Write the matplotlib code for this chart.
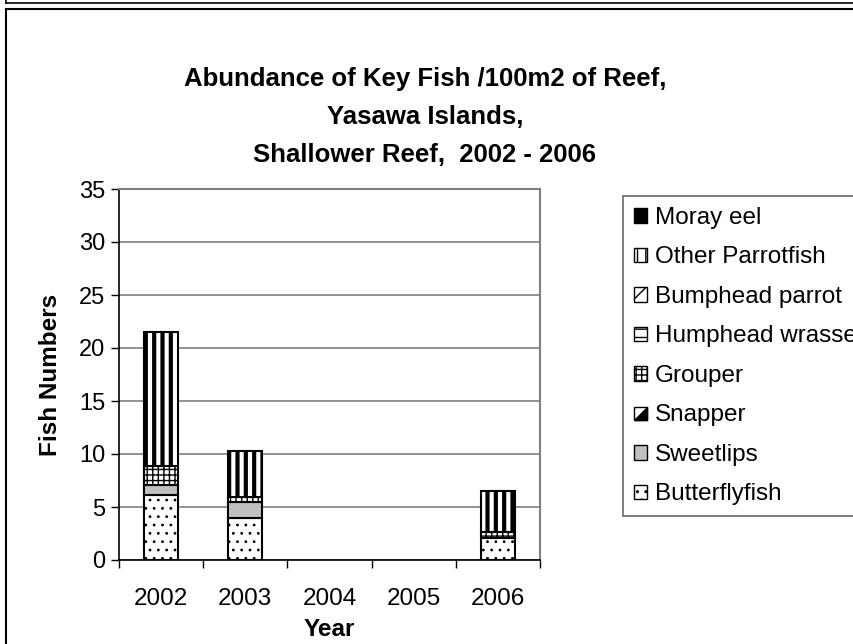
import matplotlib
matplotlib.use("Agg")
import matplotlib.pyplot as plt
from matplotlib.patches import Rectangle, Patch, Polygon
from matplotlib.lines import Line2D
from matplotlib.legend_handler import HandlerBase

years = ["2002", "2003", "2004", "2005", "2006"]
butterflyfish = [6.1, 4.0, 0, 0, 2.1]
sweetlips = [1.0, 1.45, 0, 0, 0]
snapper = [0, 0, 0, 0, 0]
grouper = [1.8, 0.5, 0, 0, 0.55]
humphead_wrasse = [0, 0, 0, 0, 0]
bumphead_parrot = [0, 0, 0, 0, 0]
other_parrotfish = [12.6, 4.3, 0, 0, 3.85]
moray_eel = [0, 0, 0, 0, 0]

series = [
    ("Butterflyfish", butterflyfish, "white", ".."),
    ("Sweetlips", sweetlips, "#c0c0c0", None),
    ("Snapper", snapper, "white", "////////"),
    ("Grouper", grouper, "white", "+++"),
    ("Humphead wrasse", humphead_wrasse, "white", "--"),
    ("Bumphead parrot", bumphead_parrot, "white", "//"),
    ("Other Parrotfish", other_parrotfish, "white", "||"),
    ("Moray eel", moray_eel, "black", None),
]

plt.rcParams['font.family'] = ['Liberation Sans', 'DejaVu Sans']

fig = plt.figure(figsize=(8.54, 6.44), dpi=100)
W, H = 854, 644

# outer frames
fig.add_artist(Line2D([6 / W, 1], [1 - 3 / H, 1 - 3 / H], color="black", lw=1.2, transform=fig.transFigure))
fig.add_artist(Line2D([6 / W, 6 / W], [1 - 3 / H, 1], color="black", lw=1.2, transform=fig.transFigure))
fig.add_artist(Rectangle((6 / W, -0.01), 1.0, 1 - 9 / H + 0.01, transform=fig.transFigure,
                         fill=False, edgecolor="black", lw=1.5))

ax = fig.add_axes([119 / W, 1 - 560 / H, (540 - 119) / W, (560 - 189) / H])

x = list(range(len(years)))
bottom = [0.0] * len(years)
handles = []
for name, vals, fc, hatch in series:
    bars = ax.bar(x, vals, width=0.4, bottom=bottom, color=fc, edgecolor="black",
                  linewidth=1.5, hatch=hatch, zorder=3)
    for b, v in zip(bars, vals):
        if v == 0:
            b.set_visible(False)
        if name == "Other Parrotfish" and hasattr(b, "set_hatch_linewidth"):
            b.set_hatch_linewidth(3.0)
        if name == "Butterflyfish" and hasattr(b, "set_hatch_linewidth"):
            b.set_hatch_linewidth(0.8)
    bottom = [bo + v for bo, v in zip(bottom, vals)]
    hp = Patch(facecolor=fc, edgecolor="black", hatch=hatch, linewidth=1.0, label=name)
    if name == "Other Parrotfish" and hasattr(hp, "set_hatch_linewidth"):
        hp.set_hatch_linewidth(2.0)
    handles.append((hp, name))


class SnapperHandler(HandlerBase):
    def create_artists(self, legend, orig_handle, xdescent, ydescent, width, height, fontsize, trans):
        s = min(width, height)
        x0, y0 = -xdescent, -ydescent
        r = Rectangle((x0, y0), s, s, facecolor="white", edgecolor="black", lw=1.0, transform=trans)
        p = Polygon([(x0, y0), (x0 + s, y0), (x0 + s, y0 + s)], closed=True,
                    facecolor="black", edgecolor="black", lw=1.0, transform=trans)
        return [r, p]


ax.set_xlim(-0.5, len(years) - 0.5)
ax.set_ylim(0, 35)
ax.set_yticks(range(0, 36, 5))
ax.set_xticks(x)
ax.set_xticklabels(years)
ax.set_xticks([i - 0.5 for i in range(len(years) + 1)], minor=True)
ax.tick_params(axis="x", which="major", length=0, pad=20, labelsize=17.5)
ax.tick_params(axis="x", which="minor", length=6, direction="out", width=1)
ax.tick_params(axis="y", length=6, direction="out", width=1, labelsize=17, pad=4)
ax.yaxis.grid(True, color="#808080", lw=1.2, zorder=0)
ax.set_axisbelow(True)
for s in ["top", "right"]:
    ax.spines[s].set_color("#808080")
    ax.spines[s].set_linewidth(1.5)
for s in ["left", "bottom"]:
    ax.spines[s].set_color("black")
    ax.spines[s].set_linewidth(1.2)

ax.set_xlabel("Year", fontsize=17.5, fontweight="bold", labelpad=6)
ax.set_ylabel("Fish Numbers", fontsize=17.5, fontweight="bold", labelpad=12)

fig.text(425 / W, 1 - 117 / H,
         "Abundance of Key Fish /100m2 of Reef,\nYasawa Islands,\nShallower Reef,  2002 - 2006",
         ha="center", va="center", fontsize=18.5, fontweight="bold", linespacing=1.72)

hs = [h for h, n in reversed(handles)]
ns = [n for h, n in reversed(handles)]
snap_handle = [h for h, n in handles if n == "Snapper"][0]
leg = fig.legend(hs, ns, loc="upper left", bbox_to_anchor=(623 / W, 1 - 196 / H),
                 fontsize=17.5, frameon=True, fancybox=False, edgecolor="#404040",
                 handlelength=0.55, handleheight=0.55, handletextpad=0.3,
                 labelspacing=0.72, borderpad=0.45, borderaxespad=0,
                 handler_map={snap_handle: SnapperHandler()})
leg.get_frame().set_linewidth(1.2)

fig.savefig("out.png", dpi=100)
